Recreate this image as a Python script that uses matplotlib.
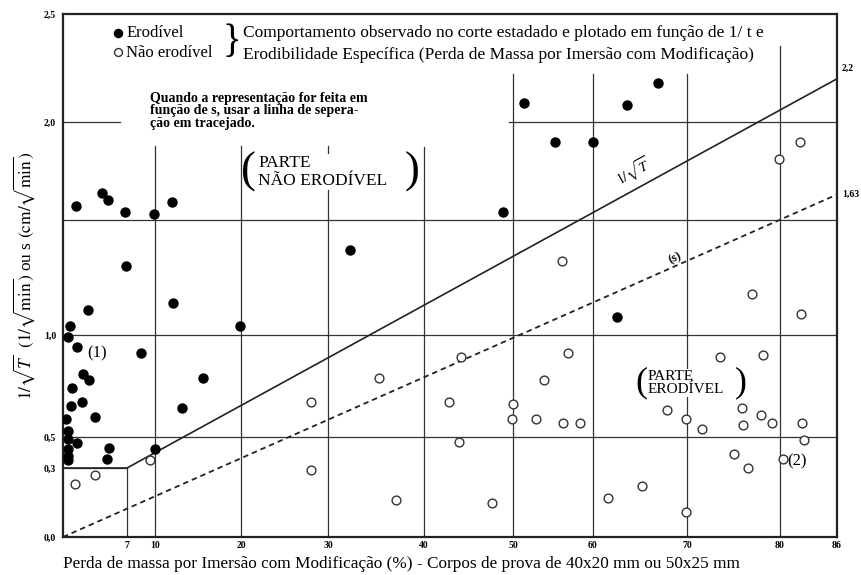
import numpy as np
import matplotlib.pyplot as plt

plt.rcParams['font.family'] = ['Liberation Serif', 'DejaVu Serif']
plt.rcParams['mathtext.fontset'] = 'stix'

# pontos do ensaio (perda de massa %, 1/sqrt(T))
ero_x = [1.4, 4.3, 4.9, 6.8, 9.9, 12.0, 6.9, 12.1, 2.7, 0.8, 0.5, 1.5, 8.5, 19.9,
         32.3, 2.2, 2.8, 1.0, 2.1, 0.9, 3.5, 0.3, 0.5, 0.5, 1.5, 0.5, 0.5, 0.5,
         5.0, 4.8, 10.0, 15.6, 13.1, 51.4, 63.6, 55.3, 60.0, 48.9, 66.9, 62.6]
ero_y = [1.57, 1.64, 1.60, 1.54, 1.53, 1.59, 1.30, 1.14, 1.11, 1.04, 0.99, 0.94,
         0.91, 1.04, 1.37, 0.81, 0.78, 0.74, 0.67, 0.65, 0.60, 0.59, 0.53, 0.49,
         0.46, 0.42, 0.38, 0.35, 0.43, 0.36, 0.42, 0.79, 0.64, 2.09, 2.08, 1.90,
         1.90, 1.54, 2.18, 1.08]

nao_x = [1.3, 3.5, 9.5, 28.0, 28.0, 35.3, 37.1, 42.8, 44.2, 43.9, 47.6, 50.0,
         49.9, 52.9, 53.9, 56.1, 56.9, 56.3, 58.4, 61.6, 65.2, 67.9, 69.9, 69.9,
         71.6, 73.5, 75.1, 75.9, 76.0, 76.6, 77.0, 78.0, 78.2, 79.1, 79.9, 80.3,
         82.1, 82.2, 82.3, 82.5]
nao_y = [0.23, 0.27, 0.35, 0.67, 0.29, 0.79, 0.16, 0.67, 0.89, 0.47, 0.15, 0.66,
         0.59, 0.59, 0.78, 1.32, 0.91, 0.57, 0.57, 0.17, 0.22, 0.63, 0.59, 0.11,
         0.54, 0.89, 0.39, 0.64, 0.56, 0.30, 1.18, 0.61, 0.90, 0.57, 1.81, 0.36,
         1.90, 1.09, 0.57, 0.48]

# linhas de separacao
sep_x = [0, 7, 86]
sep_y = [0.3, 0.3, 2.2]
s_x = [0, 86]
s_y = [0, 1.63]

xticks = [7, 10, 20, 30, 40, 50, 60, 70, 80, 86]
yticks = [0, 0.3, 0.5, 1.0, 2.0, 2.5]
ylabels = ['0,0', '0,3', '0,5', '1,0', '2,0', '2,5']

# linhas de grade desenhadas no original: (valor, inicio, fim)
hgrid = [(2.0, 0, 6.2), (2.0, 49.6, 86), (1.5, 0, 86), (1.0, 0, 86),
         (0.5, 0, 86), (0.3, 0, 7)]
vgrid = [(7, 0, 0.3), (10, 0, 1.88), (20, 0, 1.88), (30, 0, 1.88), (40, 0, 1.87),
         (50, 0, 2.22), (60, 0, 2.22), (70, 0, 2.22), (80, 0, 2.35)]

# escala desenhada a mao (nao uniforme) do grafico original
x_knots = [0, 7, 10, 20, 30, 40, 50, 60, 70, 80, 86]
x_len = [0, 64, 92, 178, 265, 361, 450, 530, 624, 717, 774]
y_knots = [0, 0.3, 0.5, 1.0, 1.5, 2.0, 2.5]
y_len = [0, 69, 100, 202, 317, 415, 523]


def pw(v, a, b):
    v = np.asarray(v, float)
    out = np.interp(v, a, b)
    out = np.where(v < a[0], b[0] + (v - a[0]) * (b[1] - b[0]) / (a[1] - a[0]), out)
    out = np.where(v > a[-1], b[-1] + (v - a[-1]) * (b[-1] - b[-2]) / (a[-1] - a[-2]), out)
    return out


fig = plt.figure(figsize=(8.62, 5.75), dpi=100)
ax = fig.add_axes([63 / 862, 38 / 575, 774 / 862, 523 / 575])
ax.set_xscale('function', functions=(lambda v: pw(v, x_knots, x_len),
                                     lambda v: pw(v, x_len, x_knots)))
ax.set_yscale('function', functions=(lambda v: pw(v, y_knots, y_len),
                                     lambda v: pw(v, y_len, y_knots)))
ax.set_xlim(0, 86)
ax.set_ylim(0, 2.5)

gc = '#333333'
for y, x0, x1 in hgrid:
    ax.plot([x0, x1], [y, y], color=gc, lw=0.9, zorder=1)
for x, y0, y1 in vgrid:
    ax.plot([x, x], [y0, y1], color=gc, lw=0.9, zorder=1)

ax.plot(sep_x, sep_y, color='#222222', lw=1.2, zorder=2)
ax.plot(s_x, s_y, color='#222222', lw=1.3, ls=(0, (3, 2.2)), zorder=2)

ax.scatter(ero_x, ero_y, s=42, color='black', zorder=4, label='Erodível')
ax.scatter(nao_x, nao_y, s=40, facecolor='white', edgecolor='#333333',
           linewidth=1.0, zorder=4, label='Não erodível')

leg = ax.legend(loc='upper left', bbox_to_anchor=(0.055, 0.995), frameon=False,
                fontsize=12, handlelength=0.5, handletextpad=0.25,
                labelspacing=0.22, borderpad=0, markerscale=0.9)

for sp in ax.spines.values():
    sp.set_linewidth(1.6)
    sp.set_color('#222222')

ax.set_xticks(xticks)
ax.set_xticklabels([str(t) for t in xticks])
ax.set_yticks(yticks)
ax.set_yticklabels(ylabels)
ax.minorticks_off()
ax.tick_params(length=0, labelsize=7)
ax.tick_params(axis='x', pad=3)
ax.tick_params(axis='y', pad=5)
for lab in ax.get_xticklabels() + ax.get_yticklabels():
    lab.set_fontweight('bold')

ax.set_ylabel(r'$1/\sqrt{T}$  $(1/\sqrt{\mathrm{min}})$ ou s $(\mathrm{cm}/\sqrt{\mathrm{min}})$',
              fontsize=12.5, labelpad=5)
fig.text(63 / 862, 1 - 564 / 575,
         'Perda de massa por Imersão com Modificação (%) - Corpos de prova de 40x20 mm ou 50x25 mm',
         fontsize=12.4, va='center', ha='left')

ax.text(18.95, 2.37, '}', fontsize=28, ha='center', va='center', fontweight='light')
ax.text(20.2, 2.41, 'Comportamento observado no corte estadado e plotado em função de 1/ t e',
        fontsize=12.5, va='center')
ax.text(20.2, 2.31, 'Erodibilidade Específica (Perda de Massa por Imersão com Modificação)',
        fontsize=12.5, va='center')
ax.text(9.5, 2.14, 'Quando a representação for feita em\nfunção de s, usar a linha de sepera-\nção em tracejado.',
        fontsize=10, fontweight='bold', va='top', linespacing=0.95)

ax.text(22.0, 1.745, 'PARTE\nNÃO ERODÍVEL', fontsize=12.5, va='center', ha='left',
        linespacing=1.15, zorder=3,
        bbox=dict(facecolor='white', edgecolor='none', pad=1))
ax.text(20.9, 1.745, '(', fontsize=32, va='center', ha='center', fontweight='light', zorder=3)
ax.text(38.8, 1.745, ')', fontsize=32, va='center', ha='center', fontweight='light', zorder=3)

ax.text(65.8, 0.765, 'PARTE\nERODÍVEL', fontsize=11, va='center', ha='left',
        linespacing=1.0, zorder=3,
        bbox=dict(facecolor='white', edgecolor='none', pad=1))
ax.text(65.1, 0.765, '(', fontsize=26, va='center', ha='center', fontweight='light', zorder=3)
ax.text(75.8, 0.765, ')', fontsize=26, va='center', ha='center', fontweight='light', zorder=3)

ax.text(2.6, 0.91, '(1)', fontsize=12, va='center', ha='left')
ax.text(80.8, 0.345, '(2)', fontsize=12, va='center', ha='left', zorder=5)
ax.text(86.5, 2.25, '2,2', fontsize=7, fontweight='bold', va='center', ha='left')
ax.text(86.5, 1.63, '1,63', fontsize=7, fontweight='bold', va='center', ha='left')
ax.text(64.3, 1.745, r'$1/\sqrt{T}$', fontsize=10, rotation=29, ha='center', va='center')
ax.text(68.7, 1.335, '(s)', fontsize=9, rotation=24, ha='center', va='center',
        fontweight='bold')

fig.savefig('out.png', dpi=100)
